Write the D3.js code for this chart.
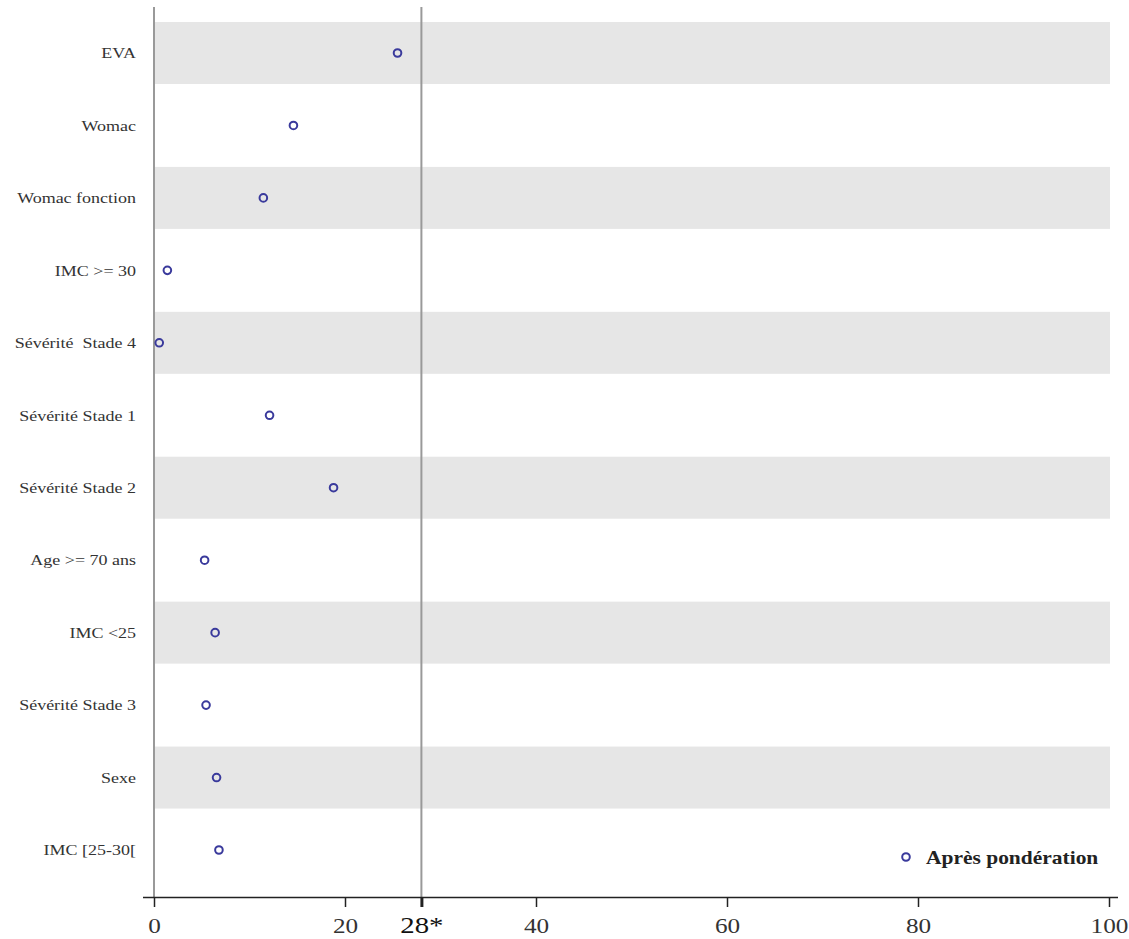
<!DOCTYPE html>
<html><head><meta charset="utf-8">
<script src="https://cdn.jsdelivr.net/npm/d3@7"></script>
<style>html,body{margin:0;padding:0;background:#fff;}</style>
</head><body>
<svg id="chart" width="1129" height="939"></svg>
<script>
const categories = ["EVA","Womac","Womac fonction","IMC >= 30","Sévérité\u00a0 Stade 4","Sévérité Stade 1","Sévérité Stade 2","Age >= 70 ans","IMC <25","Sévérité Stade 3","Sexe","IMC [25-30["];
const values = [25.5, 14.6, 11.45, 1.4, 0.55, 12.1, 18.8, 5.3, 6.4, 5.45, 6.55, 6.8];
const tickValues = [0, 20, 28, 40, 60, 80, 100];
const tickLabels = ["0", "20", "28*", "40", "60", "80", "100"];
const threshold = 28;
const seriesName = "Après pondération";

const serif = "Liberation Serif, Times New Roman, serif";
const svg = d3.select("#chart");
const x = d3.scaleLinear().domain([0, 100]).range([154, 1109]);
const y = d3.scalePoint().domain(categories).range([53, 850]);
const bandH = 62;
const axisY = 897;

// bands
svg.append("g").selectAll("rect").data(categories.filter((d,i)=>i%2===0)).join("rect")
  .attr("x", x(0)).attr("width", x(100) - x(0) + 1)
  .attr("y", d => y(d) - bandH/2).attr("height", bandH)
  .attr("fill", "#e6e6e6");

// left vertical line
svg.append("line").attr("x1", x(0)).attr("x2", x(0)).attr("y1", 7).attr("y2", axisY)
  .attr("stroke", "#999").attr("stroke-width", 2);
// threshold line
svg.append("line").attr("x1", x(threshold)).attr("x2", x(threshold)).attr("y1", 7).attr("y2", axisY)
  .attr("stroke", "#999").attr("stroke-width", 2);

// category labels (horizontally stretched serif like the reference)
svg.append("g").selectAll("text").data(categories).join("text")
  .attr("transform", d => `translate(136,${y(d)}) scale(1.2,1)`)
  .attr("dy", "0.35em")
  .attr("text-anchor", "end")
  .attr("font-family", serif)
  .attr("font-size", 15).attr("fill", "#333")
  .text(d => d);

// x axis
const axis = d3.axisBottom(x).tickValues(tickValues).tickSize(10)
  .tickFormat((d,i) => tickLabels[i]);
const gx = svg.append("g").attr("transform", `translate(0,${axisY})`).call(axis);
gx.select(".domain").attr("d", `M143,0.5H1118`).attr("stroke", "#222").attr("stroke-width", 1.5);
gx.selectAll(".tick line").attr("stroke", "#222").attr("stroke-width", d => d === threshold ? 3 : 1.5);
gx.selectAll(".tick text")
  .attr("font-family", serif)
  .attr("font-size", d => d === threshold ? 24 : 21)
  .attr("fill", d => d === threshold ? "#111" : "#333")
  .attr("dy", null)
  .attr("y", 0)
  .attr("transform", "translate(0,36) scale(1.2,1)");

// points
svg.append("g").selectAll("circle").data(values).join("circle")
  .attr("cx", d => x(d)).attr("cy", (d,i) => y(categories[i]))
  .attr("r", 3.8).attr("fill", "none").attr("stroke", "#3a3a9c").attr("stroke-width", 2);

// legend
svg.append("circle").attr("cx", 906).attr("cy", 857).attr("r", 3.8)
  .attr("fill", "none").attr("stroke", "#3a3a9c").attr("stroke-width", 2);
svg.append("text").attr("transform", "translate(926,857) scale(1.13,1)").attr("dy", "0.35em")
  .attr("font-family", serif)
  .attr("font-size", 19).attr("font-weight", "bold").attr("fill", "#222")
  .text(seriesName);
</script>
</body></html>
